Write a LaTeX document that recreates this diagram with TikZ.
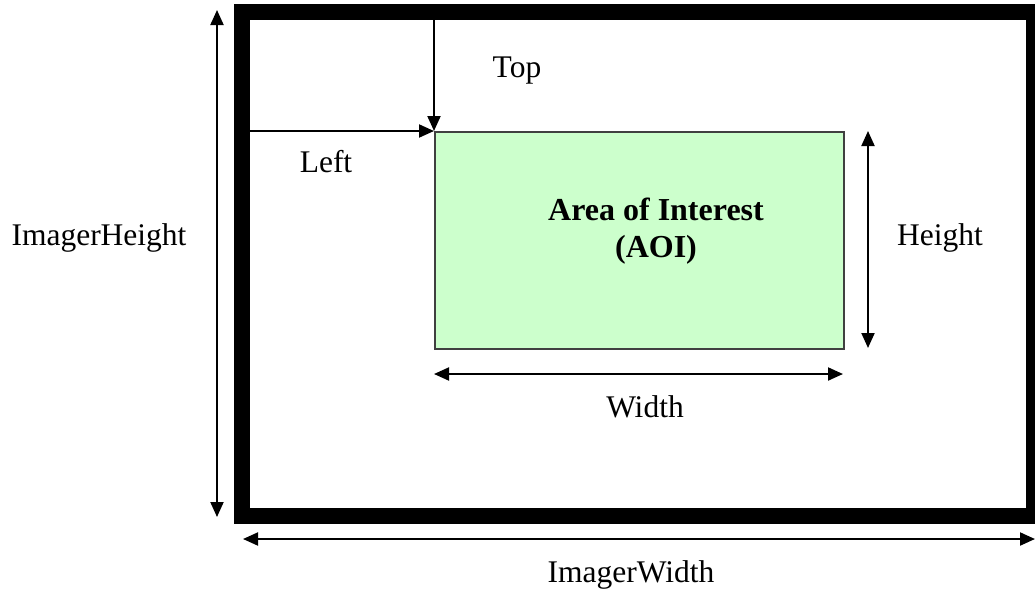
\documentclass[tikz,border=0pt]{standalone}
\usepackage{fontspec}
\setmainfont{Liberation Serif}
\usetikzlibrary{arrows.meta}
\begin{document}
\begin{tikzpicture}[x=1pt,y=-1pt,
  lbl/.style={font=\fontsize{31.5}{36}\selectfont, inner sep=0pt, anchor=base},
  arr/.style={line width=2pt, -{Triangle[length=15pt,width=13pt]}},
  darr/.style={line width=2pt, {Triangle[length=15pt,width=13pt]}-{Triangle[length=15pt,width=13pt]}},
  frame/.style={line width=16pt},
  aoibox/.style={draw=black!75, line width=1.5pt, fill={rgb,255:red,204;green,255;blue,204}}]
\useasboundingbox (0,0) rectangle (1035,590);
\begin{scope}
\clip (0,0) rectangle (1035,590);
\draw[frame] (242,12) rectangle (1034,516);
\end{scope}
\node[aoibox, minimum width=409pt, minimum height=217pt, anchor=north west, inner sep=0pt] (aoi) at (434,131) {};
\coordinate (topstart) at (434,20);
\coordinate (leftstart) at (250,131);
\draw[arr] (topstart) -- (aoi.north west);
\draw[arr] (leftstart) -- (aoi.north west);
\coordinate (hTop) at (868,131);
\coordinate (hBot) at (868,348);
\draw[darr] (hTop) -- (hBot);
\coordinate (wL) at (434,374);
\coordinate (wR) at (843,374);
\draw[darr] (wL) -- (wR);
\coordinate (ihT) at (217,10);
\coordinate (ihB) at (217,517);
\draw[darr] (ihT) -- (ihB);
\coordinate (iwL) at (243,539);
\coordinate (iwR) at (1035,539);
\draw[darr] (iwL) -- (iwR);
\node[lbl] (top) at (517,77) {Top};
\node[lbl] (left) at (326,172) {Left};
\node[lbl, font=\fontsize{32}{36}\selectfont\bfseries] (aoi1) at (656,220) {Area of Interest};
\node[lbl, font=\fontsize{32}{36}\selectfont\bfseries] (aoi2) at (656,257) {(AOI)};
\node[lbl] (height) at (940,245) {Height};
\node[lbl] (width) at (645,417) {Width};
\node[lbl] (ih) at (99,245) {ImagerHeight};
\node[lbl] (iw) at (631,582) {ImagerWidth};
\end{tikzpicture}
\end{document}
